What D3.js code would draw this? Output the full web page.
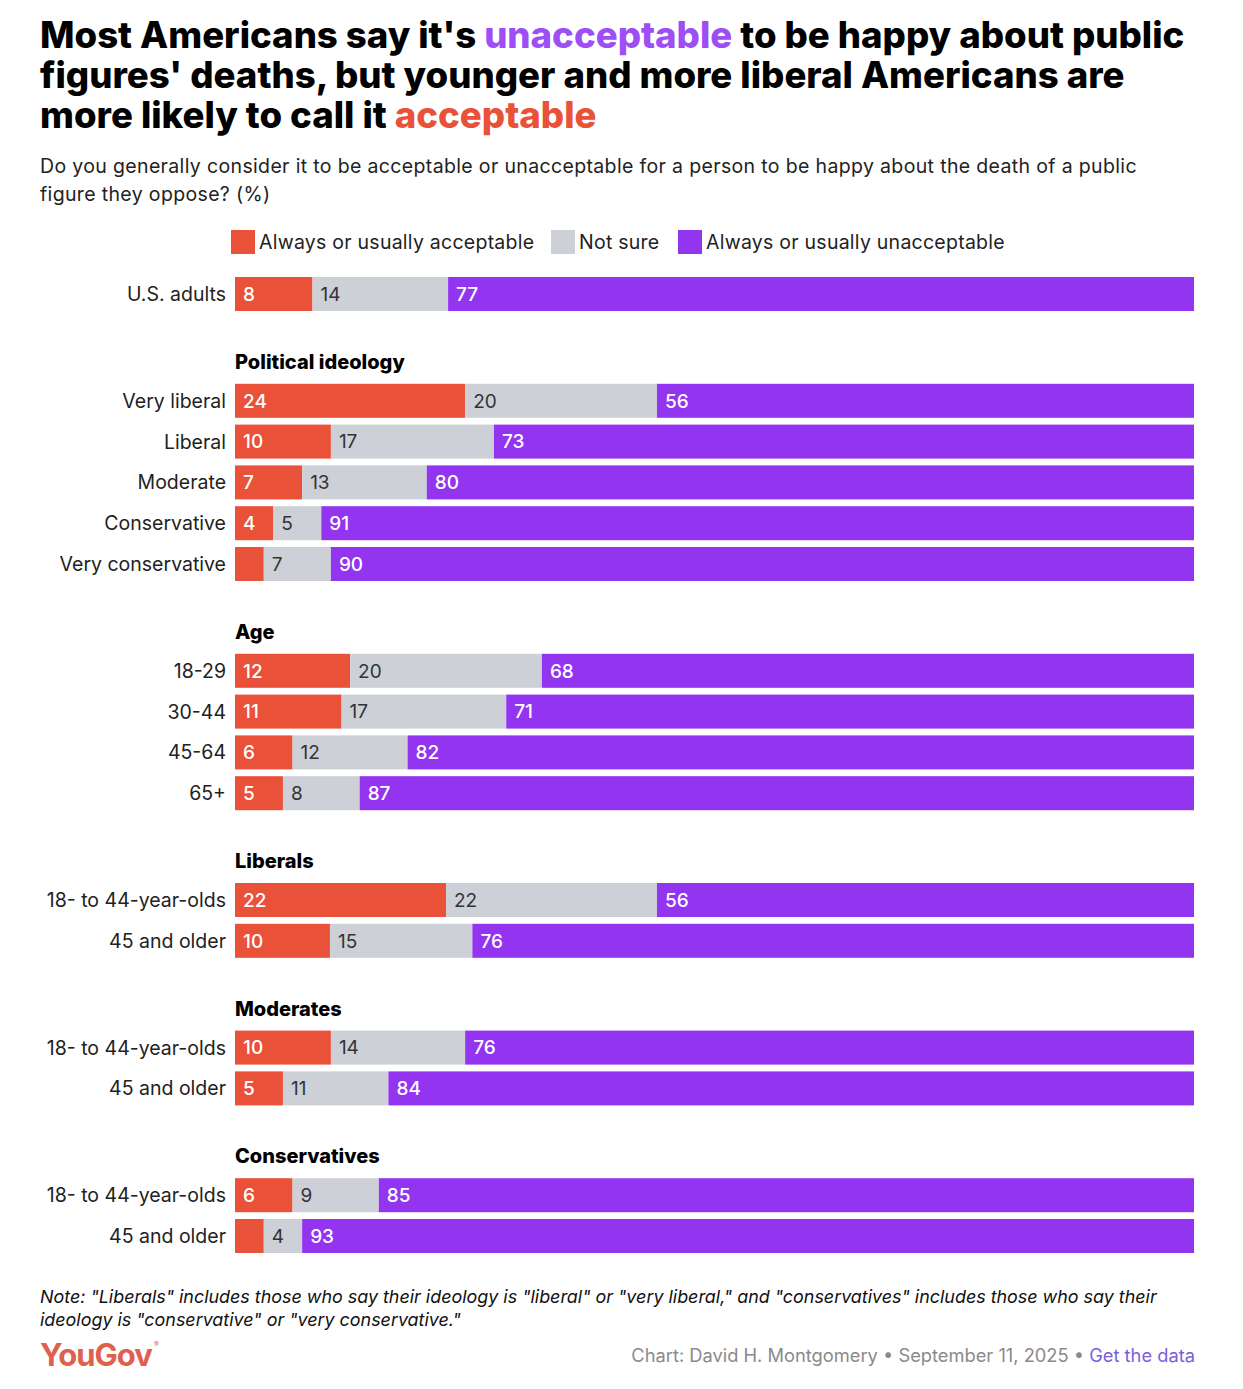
<!DOCTYPE html>
<html>
<head>
<meta charset="utf-8">
<script src="https://cdn.jsdelivr.net/npm/d3@7"></script>
<style>
  body { margin: 0; background: #fff; }
  svg { display: block; font-family: Inter, "Noto Sans", sans-serif; }
</style>
</head>
<body>
<div id="chart"></div>
<script>
// data
const groupNames = ["", "Political ideology", "Age", "Liberals", "Moderates", "Conservatives"];
const rowLabels = ["U.S. adults",
  "Very liberal", "Liberal", "Moderate", "Conservative", "Very conservative",
  "18-29", "30-44", "45-64", "65+",
  "18- to 44-year-olds", "45 and older",
  "18- to 44-year-olds", "45 and older",
  "18- to 44-year-olds", "45 and older"];
const rowGroup = [0, 1, 1, 1, 1, 1, 2, 2, 2, 2, 3, 3, 4, 4, 5, 5];
const acceptable   = [8, 24, 10, 7, 4, 3, 12, 11, 6, 5, 22, 10, 10, 5, 6, 3];
const notSure      = [14, 20, 17, 13, 5, 7, 20, 17, 12, 8, 22, 15, 14, 11, 9, 4];
const unacceptable = [77, 56, 73, 80, 91, 90, 68, 71, 82, 87, 56, 76, 76, 84, 85, 93];
const seriesNames = ["Always or usually acceptable", "Not sure", "Always or usually unacceptable"];
const seriesColors = ["#ea5139", "#cdd0d7", "#9334f0"];
const labelColors = ["#ffffff", "#333333", "#ffffff"];

const W = 1243, H = 1389;
const svg = d3.select("#chart").append("svg").attr("width", W).attr("height", H);

// title
const title = svg.append("text")
  .attr("x", 40).attr("y", 48)
  .style("font-size", "36.6px").style("font-weight", 800).attr("fill", "#000");
const titleLines = [
  [["Most Americans say it's ", "#000"], ["unacceptable", "#9d4ef5"], [" to be happy about public", "#000"]],
  [["figures' deaths, but younger and more liberal Americans are", "#000"]],
  [["more likely to call it ", "#000"], ["acceptable", "#ea5139"]]
];
titleLines.forEach((line, i) => {
  line.forEach((seg, j) => {
    const t = title.append("tspan").text(seg[0]).attr("fill", seg[1]);
    if (j === 0) t.attr("x", 40).attr("dy", i === 0 ? 0 : 40);
  });
});

// subtitle
const sub = svg.append("text").attr("x", 40).attr("y", 173)
  .style("font-size", "19.5px").style("letter-spacing", "0.35px").attr("fill", "#222");
["Do you generally consider it to be acceptable or unacceptable for a person to be happy about the death of a public",
 "figure they oppose? (%)"].forEach((s, i) => {
  sub.append("tspan").attr("x", 40).attr("dy", i === 0 ? 0 : 28).text(s);
});

// legend
const legendX = [231, 551, 678];
const legend = svg.append("g");
seriesNames.forEach((n, i) => {
  legend.append("rect").attr("x", legendX[i]).attr("y", 230).attr("width", 24).attr("height", 24)
    .attr("fill", seriesColors[i]);
  legend.append("text").attr("x", legendX[i] + 28).attr("y", 249)
    .style("font-size", "19.5px").style("letter-spacing", "0.25px").attr("fill", "#222").text(n);
});

// scales
const x = d3.scaleLinear().domain([0, 1]).range([235, 1194]);
const groupGap = 66 / 40.8;
const slot = rowLabels.map((d, i) => i + rowGroup[i] * groupGap);
const y = d3.scaleLinear().domain([0, 1]).range([277, 277 + 40.8]);
const barH = 34;

const rows = rowLabels.map((label, i) => {
  const vals = [acceptable[i], notSure[i], unacceptable[i]];
  const total = d3.sum(vals);
  let cum = 0;
  const segs = vals.map((v, k) => {
    const s = { k, v, x0: cum / total, x1: (cum + v) / total };
    cum += v;
    return s;
  });
  return { label, i, segs, y: y(slot[i]) };
});

// group headers
groupNames.forEach((g, gi) => {
  if (!g) return;
  const first = rows.find(r => rowGroup[r.i] === gi);
  svg.append("text").attr("x", 235).attr("y", first.y - 15)
    .style("font-size", "20px").style("font-weight", 800).attr("fill", "#000")
    .text(g);
});

const rowG = svg.append("g").selectAll("g").data(rows).join("g")
  .attr("transform", d => `translate(0,${d.y})`);

rowG.append("text").attr("x", 226).attr("y", barH / 2).attr("dy", "0.36em")
  .attr("text-anchor", "end").style("font-size", "19.5px")
  .attr("fill", "#222").text(d => d.label);

const seg = rowG.selectAll("g.seg").data(d => d.segs).join("g").attr("class", "seg");
seg.append("rect")
  .attr("x", d => x(d.x0)).attr("width", d => x(d.x1) - x(d.x0))
  .attr("y", 0).attr("height", barH).attr("fill", d => seriesColors[d.k]);
seg.filter(d => d.v >= 4).append("text")
  .attr("x", d => x(d.x0) + 8).attr("y", barH / 2).attr("dy", "0.36em")
  .style("font-size", "19px").style("font-weight", d => d.k === 1 ? 400 : 500)
  .attr("fill", d => labelColors[d.k]).text(d => d.v);

// note
const note = svg.append("text").attr("x", 40).attr("y", 1303)
  .style("font-size", "17.9px").style("font-style", "italic").attr("fill", "#111");
["Note: \"Liberals\" includes those who say their ideology is \"liberal\" or \"very liberal,\" and \"conservatives\" includes those who say their",
 "ideology is \"conservative\" or \"very conservative.\""].forEach((s, i) => {
  note.append("tspan").attr("x", 40).attr("dy", i === 0 ? 0 : 23).text(s);
});

// footer
const logo = svg.append("text").attr("x", 40).attr("y", 1366)
  .style("font-size", "31px").style("font-weight", 700).attr("fill", "#e0604f")
  .style("letter-spacing", "-1px").text("YouGov");
svg.append("text").attr("x", 40 + logo.node().getComputedTextLength() + 2).attr("y", 1347)
  .style("font-size", "7px").attr("fill", "#e0604f").text("®");

const foot = svg.append("text").attr("x", 1195).attr("y", 1362).attr("text-anchor", "end")
  .style("font-size", "18.3px").attr("fill", "#8a8a8a");
foot.append("tspan").text("Chart: David H. Montgomery • September 11, 2025 • ");
foot.append("tspan").attr("fill", "#7b5fd9").text("Get the data");
</script>
</body>
</html>
